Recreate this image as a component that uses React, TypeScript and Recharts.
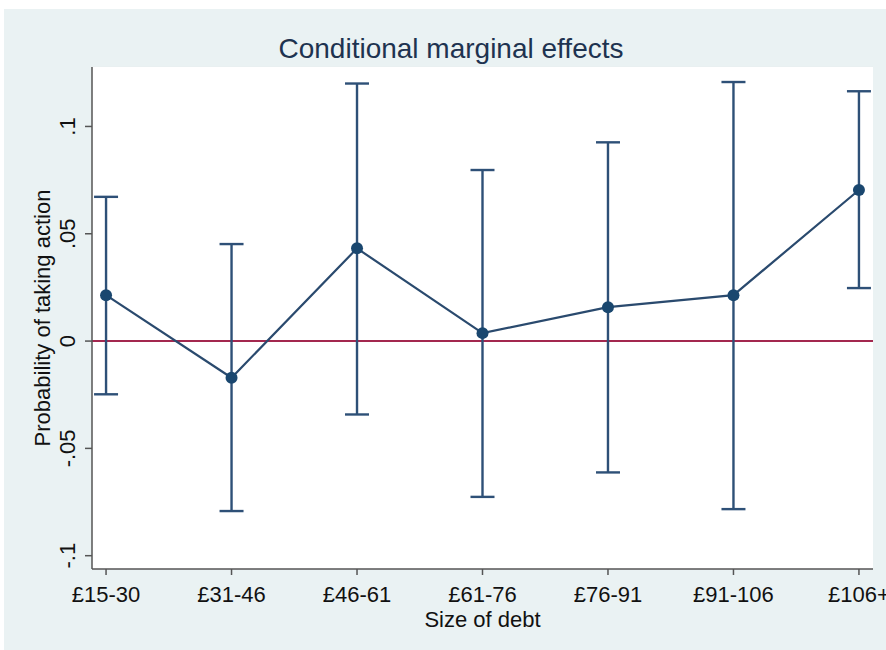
import React from 'react';
import {
  LineChart,
  Line,
  XAxis,
  YAxis,
  CartesianGrid,
  ReferenceLine,
  ErrorBar,
  Label,
} from 'recharts';

const categories = ['£15-30', '£31-46', '£46-61', '£61-76', '£76-91', '£91-106', '£106+'];
const estimates = [0.0214, -0.0171, 0.0432, 0.0037, 0.0158, 0.0214, 0.0704];
const lowerCI = [-0.0248, -0.0792, -0.0342, -0.0726, -0.0612, -0.0783, 0.0247];
const upperCI = [0.0672, 0.0452, 0.12, 0.0797, 0.0926, 0.1207, 0.1164];
const yTicks = [-0.1, -0.05, 0, 0.05, 0.1];
const yTickLabels = ['-.1', '-.05', '0', '.05', '.1'];
const xTicks = [0, 1, 2, 3, 4, 5, 6];

const data = categories.map((c, i) => ({
  idx: i,
  label: c,
  est: estimates[i],
  err: [estimates[i] - lowerCI[i], upperCI[i] - estimates[i]],
}));

const FONT = '"Liberation Sans", Arial, Helvetica, sans-serif';
const NAVY = '#1a476f';
const W = 882;
const H = 641;

const YTick = (props: any) => {
  const { x, y, payload } = props;
  const i = yTicks.findIndex((t) => Math.abs(t - payload.value) < 1e-9);
  const txt = i >= 0 ? yTickLabels[i] : String(payload.value);
  const bx = x - 8;
  return (
    <text
      x={bx}
      y={y}
      transform={`rotate(-90, ${bx}, ${y})`}
      textAnchor="middle"
      fontSize={22}
      fontFamily={FONT}
      fill="#111"
    >
      {txt}
    </text>
  );
};

const XTick = (props: any) => {
  const { x, y, payload } = props;
  return (
    <text x={x} y={y + 25} textAnchor="middle" fontSize={22} fontFamily={FONT} fill="#111">
      {categories[payload.value]}
    </text>
  );
};

export default function App() {
  return (
    <div style={{ position: 'absolute', left: 4, top: 9, width: W, height: H, background: '#eaf2f3' }}>
      <svg
        width={W}
        height={H}
        style={{ position: 'absolute', left: 0, top: 0, pointerEvents: 'none', zIndex: 2 }}
      >
        <text x={447} y={49} textAnchor="middle" fontSize={28} fontFamily={FONT} fill="#1e3350">
          Conditional marginal effects
        </text>
      </svg>
      <LineChart
        width={W}
        height={H}
        data={data}
        margin={{ top: 58, right: 13, left: 0, bottom: 0 }}
        style={{ background: 'transparent' }}
      >
        <rect x={88} y={58} width={781} height={502} fill="#ffffff" />
        <CartesianGrid vertical={false} stroke="#e9eff1" strokeWidth={1.5} fill="#ffffff" />
        <XAxis
          dataKey="idx"
          type="number"
          domain={[-0.112, 6.112]}
          ticks={xTicks}
          allowDataOverflow
          height={81}
          tickSize={6}
          tick={<XTick />}
          axisLine={{ stroke: '#555', strokeWidth: 1.5 }}
          tickLine={{ stroke: '#555', strokeWidth: 1.5 }}
        >
          <Label
            content={(p: any) => {
              const vb = p.viewBox || { x: 88, y: 560, width: 781, height: 81 };
              return (
                <text
                  x={vb.x + vb.width / 2}
                  y={vb.y + 58}
                  textAnchor="middle"
                  fontSize={22}
                  fontFamily={FONT}
                  fill="#111"
                >
                  Size of debt
                </text>
              );
            }}
          />
        </XAxis>
        <YAxis
          type="number"
          domain={[-0.1062, 0.1277]}
          ticks={yTicks}
          allowDataOverflow
          width={88}
          tickSize={7}
          tick={<YTick />}
          axisLine={{ stroke: '#555', strokeWidth: 1.5 }}
          tickLine={{ stroke: '#555', strokeWidth: 1.5 }}
        >
          <Label
            content={(p: any) => {
              const vb = p.viewBox || { x: 0, y: 58, width: 88, height: 502 };
              const cx = 46;
              const cy = vb.y + vb.height / 2;
              return (
                <text
                  x={cx}
                  y={cy}
                  transform={`rotate(-90, ${cx}, ${cy})`}
                  textAnchor="middle"
                  fontSize={22}
                  fontFamily={FONT}
                  fill="#111"
                >
                  Probability of taking action
                </text>
              );
            }}
          />
        </YAxis>
        <ReferenceLine y={0} stroke="#a3284f" strokeWidth={2} ifOverflow="extendDomain" />
        <Line
          dataKey="est"
          type="linear"
          stroke="#2a4a6e"
          strokeWidth={2.2}
          dot={{ r: 6, fill: NAVY, stroke: NAVY, strokeWidth: 0 }}
          isAnimationActive={false}
        >
          <ErrorBar dataKey="err" width={12} strokeWidth={2.4} stroke="#2e5077" direction="y" />
        </Line>
      </LineChart>
    </div>
  );
}
